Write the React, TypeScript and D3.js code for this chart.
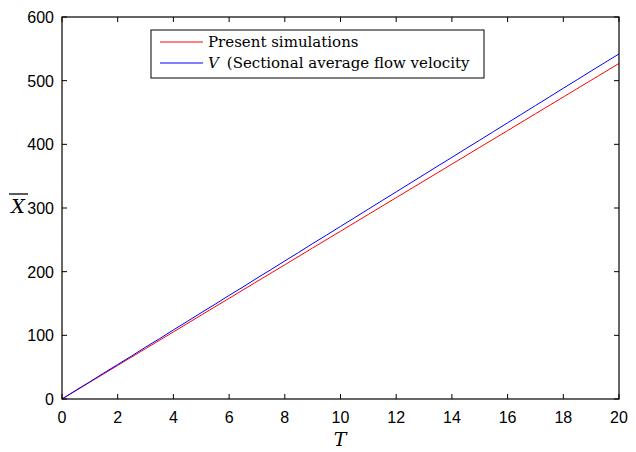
import React from "react";
import * as d3 from "d3";

// Mean position X̄ against time T
const redT = [0, 1, 2, 3, 4, 5, 6, 7, 8, 9, 10, 11, 12, 13, 14, 15, 16, 17, 18, 19, 20];
const redX = [0, 26.4, 52.7, 79.1, 105.4, 131.8, 158.1, 184.5, 210.8, 237.2, 263.5, 289.9, 316.2, 342.6, 368.9, 395.3, 421.6, 448, 474.3, 500.7, 527];

const blueT = [0, 0.5, 1, 1.5, 2, 2.5, 3, 3.5, 4, 4.5, 5, 5.5, 6, 6.5, 7, 7.5, 8, 8.5, 9, 9.5, 10, 10.5, 11, 11.5, 12, 12.5, 13, 13.5, 14, 14.5, 15, 15.5, 16, 16.5, 17, 17.5, 18, 18.5, 19, 19.5, 20];
const blueX = [0, 13.7, 27.0, 40.8, 54.2, 67.6, 81.4, 94.7, 108.5, 121.9, 135.6, 148.9, 162.7, 176.0, 189.8, 203.2, 216.9, 230.3, 244.1, 257.4, 271.1, 284.6, 298.2, 311.8, 325.3, 338.9, 352.4, 366.1, 379.5, 393.2, 406.6, 420.2, 433.8, 447.3, 460.9, 474.4, 488.1, 501.5, 515.2, 528.6, 542];

const xTicks = [0, 2, 4, 6, 8, 10, 12, 14, 16, 18, 20];
const yTicks = [0, 100, 200, 300, 400, 500, 600];

const legendLabels = ["Present simulations", "(Sectional average flow velocity"];

const W = 636;
const H = 452;
const L = 62, R = 619, T = 17, B = 399;

export default function App() {
  const x = d3.scaleLinear().domain([0, 20]).range([L, R]);
  const y = d3.scaleLinear().domain([0, 600]).range([B, T]);
  const line = d3.line<[number, number]>().x((d) => x(d[0])).y((d) => y(d[1]));
  const redPts = redT.map((t, i) => [t, redX[i]] as [number, number]);
  const bluePts = blueT.map((t, i) => [t, blueX[i]] as [number, number]);
  const tickLen = 5;
  const sans = "'Liberation Sans', Arial, Helvetica, sans-serif";
  const serif = "'DejaVu Serif', 'Liberation Serif', serif";

  return (
    <svg width={W} height={H} style={{ position: "absolute", left: 0, top: 0 }}>
      <rect x={0} y={0} width={W} height={H} fill="#fff" />
      <path d={line(redPts) ?? ""} fill="none" stroke="#ff0000" strokeWidth={1} />
      <path d={line(bluePts) ?? ""} fill="none" stroke="#0000ff" strokeWidth={1} />
      <rect x={L} y={T} width={R - L} height={B - T} fill="none" stroke="#000" strokeWidth={1.2} />
      {xTicks.map((t) => (
        <g key={"x" + t}>
          <line x1={x(t)} x2={x(t)} y1={B} y2={B - tickLen} stroke="#000" />
          <line x1={x(t)} x2={x(t)} y1={T} y2={T + tickLen} stroke="#000" />
          <text x={x(t)} y={423} textAnchor="middle" fontFamily={sans} fontSize={16}>{t}</text>
        </g>
      ))}
      {yTicks.map((t) => (
        <g key={"y" + t}>
          <line x1={L} x2={L + tickLen} y1={y(t)} y2={y(t)} stroke="#000" />
          <line x1={R} x2={R - tickLen} y1={y(t)} y2={y(t)} stroke="#000" />
          <text x={54} y={y(t) + 6} textAnchor="end" fontFamily={sans} fontSize={16}>{t}</text>
        </g>
      ))}
      <text x={340} y={446} textAnchor="middle" fontFamily={serif} fontStyle="italic" fontSize={19}>T</text>
      <g>
        <text x={18} y={213} textAnchor="middle" fontFamily={serif} fontStyle="italic" fontSize={19}>X</text>
        <line x1={9} x2={28} y1={194} y2={194} stroke="#000" strokeWidth={1.3} />
      </g>
      <rect x={151} y={30} width={333} height={48} fill="#fff" stroke="#000" strokeWidth={1} />
      <line x1={160} x2={203} y1={42} y2={42} stroke="#ff0000" />
      <line x1={160} x2={203} y1={63} y2={63} stroke="#0000ff" />
      <text x={208} y={47} fontFamily={serif} fontSize={15}>{legendLabels[0]}</text>
      <text x={208} y={68} fontFamily={serif} fontSize={15}>
        <tspan fontStyle="italic">V</tspan>
        <tspan dx={8}>{legendLabels[1]}</tspan>
      </text>
    </svg>
  );
}
